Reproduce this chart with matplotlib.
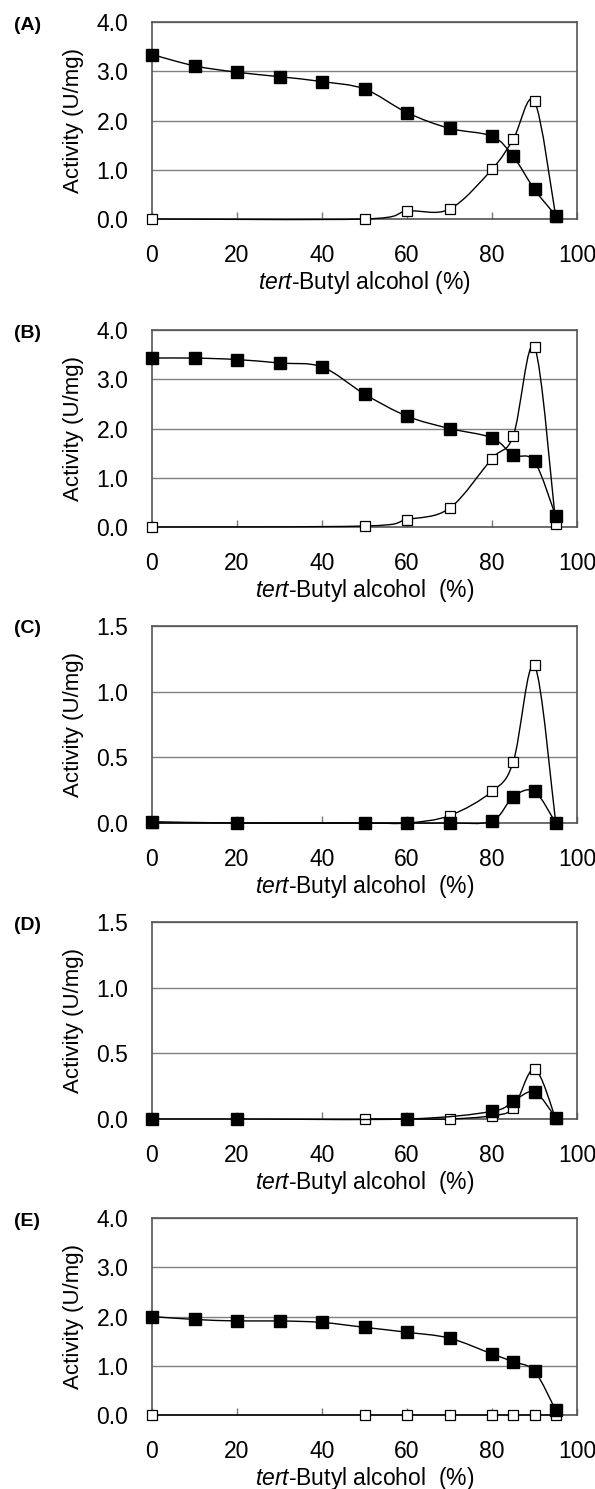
import matplotlib
matplotlib.use("Agg")
import matplotlib.pyplot as plt
import numpy as np
from matplotlib.path import Path
from matplotlib.patches import PathPatch
from matplotlib.ticker import FormatStrFormatter

plt.rcParams['font.family'] = ['Liberation Sans', 'DejaVu Sans']
plt.rcParams['mathtext.fontset'] = 'custom'
plt.rcParams['mathtext.rm'] = 'Liberation Sans'
plt.rcParams['mathtext.it'] = 'Liberation Sans:italic'

# data: tert-butyl alcohol (%) vs activity (U/mg)
panel_names = ['(A)', '(B)', '(C)', '(D)', '(E)']

a_x_filled = [0, 10, 20, 30, 40, 50, 60, 70, 80, 85, 90, 95]
a_y_filled = [3.34, 3.11, 2.98, 2.89, 2.79, 2.64, 2.16, 1.84, 1.68, 1.27, 0.60, 0.07]
a_x_open = [0, 50, 60, 70, 80, 85, 90, 95]
a_y_open = [0.0, 0.0, 0.16, 0.20, 1.01, 1.62, 2.39, 0.05]

b_x_filled = [0, 10, 20, 30, 40, 50, 60, 70, 80, 85, 90, 95]
b_y_filled = [3.43, 3.43, 3.40, 3.33, 3.25, 2.70, 2.25, 2.00, 1.81, 1.46, 1.33, 0.22]
b_x_open = [0, 50, 60, 70, 80, 85, 90, 95]
b_y_open = [0.0, 0.02, 0.15, 0.38, 1.39, 1.85, 3.66, 0.07]

c_x_filled = [0, 20, 50, 60, 70, 80, 85, 90, 95]
c_y_filled = [0.01, 0.0, 0.0, 0.0, 0.0, 0.015, 0.20, 0.24, 0.0]
c_x_open = [0, 20, 50, 60, 70, 80, 85, 90, 95]
c_y_open = [0.0, 0.0, 0.0, 0.0, 0.056, 0.24, 0.465, 1.20, 0.0]

d_x_filled = [0, 20, 60, 80, 85, 90, 95]
d_y_filled = [0.0, 0.0, 0.0, 0.058, 0.137, 0.205, 0.01]
d_x_open = [50, 60, 70, 80, 85, 90, 95]
d_y_open = [0.0, 0.0, 0.0, 0.025, 0.085, 0.38, 0.0]

e_x_filled = [0, 10, 20, 30, 40, 50, 60, 70, 80, 85, 90, 95]
e_y_filled = [2.0, 1.94, 1.91, 1.91, 1.88, 1.78, 1.68, 1.56, 1.24, 1.08, 0.89, 0.095]
e_x_open = [0, 50, 60, 70, 80, 85, 90, 95]
e_y_open = [0.0, 0.0, 0.0, 0.0, 0.0, 0.0, 0.0, 0.0]

panels = [
    (a_x_filled, a_y_filled, a_x_open, a_y_open, 4.0, 'tert-Butyl alcohol (%)'),
    (b_x_filled, b_y_filled, b_x_open, b_y_open, 4.0, 'tert-Butyl alcohol  (%)'),
    (c_x_filled, c_y_filled, c_x_open, c_y_open, 1.5, 'tert-Butyl alcohol  (%)'),
    (d_x_filled, d_y_filled, d_x_open, d_y_open, 1.5, 'tert-Butyl alcohol  (%)'),
    (e_x_filled, e_y_filled, e_x_open, e_y_open, 4.0, 'tert-Butyl alcohol  (%)'),
]

W, H = 595, 1489
box_tops = [22, 330, 626, 922, 1218]
box_h = 197
box_left, box_right = 152, 577


def smooth_path(xs, ys):
    # Excel-style smoothed line: cubic bezier segments through the points
    p = np.column_stack([xs, ys]).astype(float)
    n = len(p)
    verts = [p[0]]
    codes = [Path.MOVETO]
    for i in range(n - 1):
        p0 = p[i - 1] if i > 0 else p[i]
        p1 = p[i]
        p2 = p[i + 1]
        p3 = p[i + 2] if i + 2 < n else p[i + 1]
        c1 = p1 + (p2 - p0) / 6.0
        c2 = p2 - (p3 - p1) / 6.0
        verts += [c1, c2, p2]
        codes += [Path.CURVE4] * 3
    return Path(verts, codes)


fig = plt.figure(figsize=(W / 100, H / 100), dpi=100)

for k, (xf, yf, xo, yo, ymax, xlab) in enumerate(panels):
    top = box_tops[k]
    ax = fig.add_axes([box_left / W, 1 - (top + box_h) / H,
                       (box_right - box_left) / W, box_h / H])
    ax.set_xlim(0, 100)
    ax.set_ylim(0, ymax)
    step = 1.0 if ymax > 2 else 0.5
    ax.set_yticks(np.arange(0, ymax + 0.01, step))
    ax.set_xticks(np.arange(0, 101, 20))
    ax.yaxis.set_major_formatter(FormatStrFormatter('%.1f'))
    ax.yaxis.grid(True, color='#808080', lw=1.0)
    ax.set_axisbelow(True)
    for s in ax.spines.values():
        s.set_color('#555555')
        s.set_linewidth(1.2)
    ax.tick_params(axis='x', direction='in', length=5, width=1, color='#777777',
                   labelsize=16.5, pad=18)
    ax.tick_params(axis='y', length=0, labelsize=16.5, pad=17)

    ax.add_patch(PathPatch(smooth_path(xo, yo), facecolor='none', edgecolor='black',
                           lw=1.0, clip_on=False, zorder=3))
    ax.plot(xo, yo, ls='none', marker='s', ms=6.5, mfc='white', mec='black', mew=0.9,
            clip_on=False, zorder=4)
    ax.add_patch(PathPatch(smooth_path(xf, yf), facecolor='none', edgecolor='black',
                           lw=1.0, clip_on=False, zorder=5))
    ax.plot(xf, yf, ls='none', marker='s', ms=8, color='black',
            clip_on=False, zorder=6)

    rest = xlab.split('-', 1)[1]
    ax.set_xlabel(r'$\mathit{tert}$' + '-' + rest, fontsize=16.5)
    ax.xaxis.set_label_coords(0.5, -0.32)
    ax.xaxis.label.set_va('center')
    ax.set_ylabel('Activity (U/mg)', fontsize=16)
    ax.yaxis.set_label_coords((73 - box_left) / (box_right - box_left), 0.5)
    ax.yaxis.label.set_va('center')

    fig.text(14 / W, 1 - (top + 3) / H, panel_names[k], fontsize=14,
             fontweight='bold', ha='left', va='center')

fig.savefig('out.png', dpi=100)
